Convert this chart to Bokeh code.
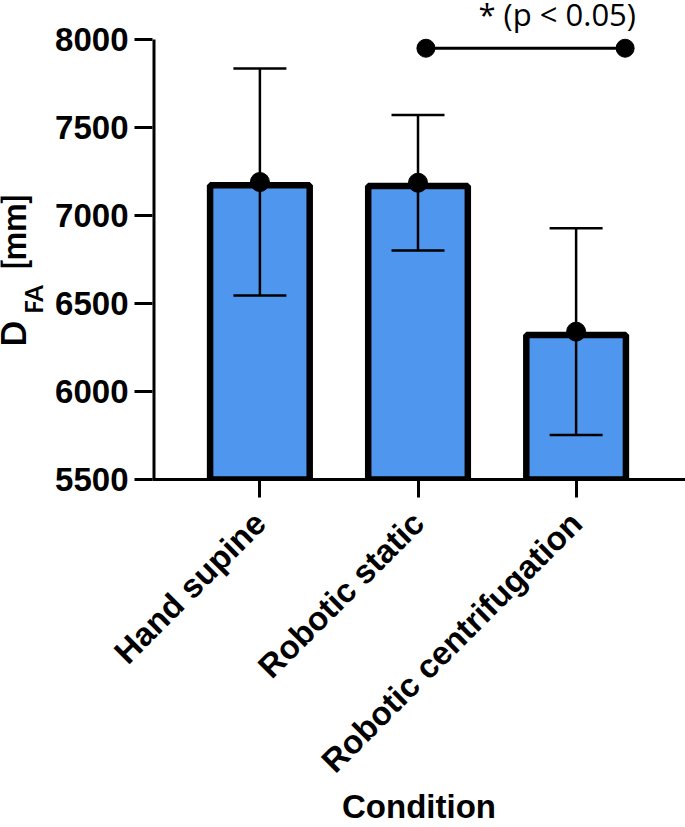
import math
from bokeh.plotting import figure
from bokeh.layouts import row
from bokeh.models import (Range1d, ColumnDataSource, Whisker, TeeHead,
                          FixedTicker)
from bokeh.core.properties import value
from bokeh.embed import file_html
from bokeh.resources import INLINE

# ---- data ----
categories = ["Hand supine", "Robotic static", "Robotic centrifugation"]
means = [7190, 7186, 6340]
sds = [645, 385, 587]
sig_text = "* (p < 0.05)"
sig_level = 7950
sig_pair = [1.05, 2.31]
y_ticks = [5500, 6000, 6500, 7000, 7500, 8000]
y_title = ["D", "FA", "[mm]"]
x_title = "Condition"

# ---- layout constants (pixels) ----
TOTAL_W, TOTAL_H = 685, 827
LEFT_W = 52                 # strip for the y-axis title
FRAME_LEFT = 149            # page x of the plot frame's left edge
FRAME_BOTTOM = 480          # page y of the x axis
AXIS_TOP = 39               # page y of the 8000 tick
X0_PAGE, X_STEP = 257, 159  # page x of first category, px per category
Y0, Y1 = 5500, 8000
px_per_unit = (FRAME_BOTTOM - AXIS_TOP) / (Y1 - Y0)
y_top = Y1 + AXIS_TOP / px_per_unit
x_start = -(X0_PAGE - FRAME_LEFT) / X_STEP
x_end = (TOTAL_W - X0_PAGE) / X_STEP

def page_y_to_data(py):
    return Y0 + (FRAME_BOTTOM - py) / px_per_unit

# ---- left strip with the y-axis title D_FA [mm] ----
# its frame is aligned with the main frame (page y 0 .. FRAME_BOTTOM)
lp = figure(width=LEFT_W, height=TOTAL_H, output_backend="svg",
            toolbar_location=None, title=None,
            x_axis_type=None, y_axis_type=None,
            x_range=Range1d(0, LEFT_W), y_range=Range1d(0, FRAME_BOTTOM),
            min_border_left=0, min_border_right=0, min_border_top=0,
            min_border_bottom=TOTAL_H - FRAME_BOTTOM)
lp.grid.visible = False
lp.outline_line_color = None

def ly(page_y):
    return FRAME_BOTTOM - page_y

lbl = dict(angle=math.pi / 2, text_font=value("Lato"), text_font_style="bold",
           text_align="left", text_baseline="alphabetic", text_color="black")
lp.text(x=[12], y=[ly(347)], text=[y_title[0]], text_font_size="34px", **lbl)
lp.text(x=[33], y=[ly(314)], text=[y_title[1]], text_font_size="24px", **lbl)
lp.text(x=[12], y=[ly(270)], text=[y_title[2]], text_font_size="34px", **lbl)

# ---- main plot ----
p = figure(width=TOTAL_W - LEFT_W, height=TOTAL_H, output_backend="svg",
           toolbar_location=None, title=None,
           x_range=Range1d(x_start, x_end), y_range=Range1d(Y0, y_top),
           min_border_left=FRAME_LEFT - LEFT_W, min_border_right=0,
           min_border_top=0, min_border_bottom=TOTAL_H - FRAME_BOTTOM)
p.outline_line_color = None
p.xgrid.visible = False
p.ygrid.visible = False

bar_lw = 6.5
half_lw_data = (bar_lw / 2) / px_per_unit
src = ColumnDataSource(dict(
    x=list(range(len(categories))),
    top=[m - half_lw_data for m in means],
    mean=means,
    upper=[m + s for m, s in zip(means, sds)],
    lower=[m - s for m, s in zip(means, sds)],
))

p.vbar(x="x", top="top", bottom=Y0, width=0.63, source=src,
       fill_color="#4F97EE", line_color="black", line_width=bar_lw)

w = Whisker(source=src, base="x", upper="upper", lower="lower",
            line_width=2.5, line_color="black", level="overlay",
            upper_head=TeeHead(size=53, line_width=2.5, line_color="black"),
            lower_head=TeeHead(size=53, line_width=2.5, line_color="black"))
p.add_layout(w)
p.scatter(x="x", y="mean", source=src, size=19, color="black", level="overlay")

# y-axis line only from 5500 to 8000 (half of it is clipped by the frame edge)
p.segment(x0=[x_start], y0=[Y0], x1=[x_start], y1=[Y1],
          line_width=6, line_color="black")

# significance bracket and text
p.line(x=sig_pair, y=[sig_level, sig_level], line_width=3, color="black")
p.scatter(x=sig_pair, y=[sig_level, sig_level], size=18, color="black")
p.text(x=[(556 - X0_PAGE) / X_STEP], y=[page_y_to_data(14)], text=[sig_text],
       text_font=value("Open Sans"), text_font_size="31px",
       text_align="center", text_baseline="alphabetic", text_color="black")

# axes
for ax in (p.xaxis[0], p.yaxis[0]):
    ax.axis_line_width = 3
    ax.axis_line_color = "black"
    ax.major_tick_line_width = 3
    ax.major_tick_line_color = "black"
    ax.major_tick_out = 18
    ax.major_tick_in = 0
    ax.minor_tick_line_color = None
    ax.major_label_text_font = "Liberation Sans"
    ax.major_label_text_font_style = "bold"
    ax.major_label_text_color = "black"

p.yaxis.axis_line_color = None
p.yaxis.major_label_text_font_size = "33px"
p.yaxis.ticker = FixedTicker(ticks=y_ticks)
p.yaxis.major_label_standoff = 6

p.xaxis.ticker = FixedTicker(ticks=list(range(len(categories))))
p.xaxis.major_label_overrides = {i: c for i, c in enumerate(categories)}
p.xaxis.major_label_orientation = math.pi / 4
p.xaxis.major_label_text_font_size = "33px"
p.xaxis.major_label_standoff = 20

p.xaxis.axis_label = x_title
p.xaxis.axis_label_text_font = "Liberation Sans"
p.xaxis.axis_label_text_font_style = "bold"
p.xaxis.axis_label_text_font_size = "33px"
p.xaxis.axis_label_text_color = "black"
p.xaxis.axis_label_standoff = -8

layout = row(lp, p, spacing=0)
open("out.html", "w").write(file_html(layout, INLINE))
